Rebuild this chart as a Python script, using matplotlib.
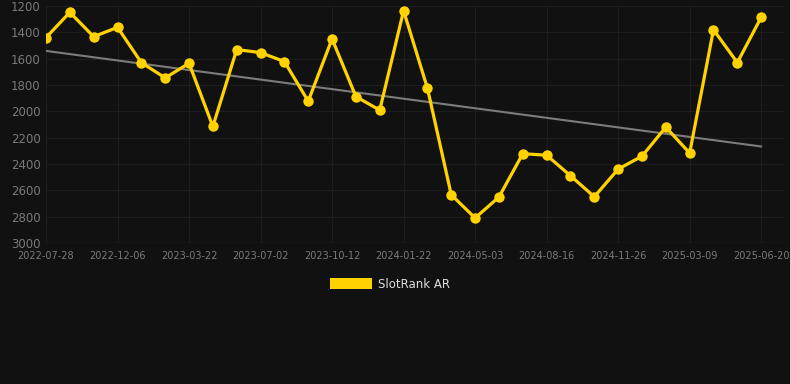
import matplotlib
matplotlib.use("Agg")
import matplotlib.pyplot as plt
from matplotlib.patches import Patch

# rank values (lower is better, axis inverted)
ranks = [1440, 1248, 1433, 1362, 1630, 1746, 1635, 2115, 1531, 1554,
         1622, 1923, 1450, 1888, 1991, 1236, 1824, 2634, 2810, 2651,
         2322, 2333, 2489, 2649, 2439, 2341, 2120, 2317, 1380, 1630,
         1286]

tick_labels = ["2022-07-28", "2022-12-06", "2023-03-22", "2023-07-02",
               "2023-10-12", "2024-01-22", "2024-05-03", "2024-08-16",
               "2024-11-26", "2025-03-09", "2025-06-20"]

# trend line end values
trend_start = 1541
trend_end = 2267

BG = "#111111"
YELLOW = "#ffd200"
GRID = "#1d1d1d"
TICK = "#7a7a7a"

fig = plt.figure(figsize=(7.9, 3.84), dpi=100, facecolor=BG)
ax = fig.add_axes([46 / 790, 1 - 243 / 384, (785 - 46) / 790, (243 - 6) / 384])
ax.set_facecolor(BG)

x = list(range(len(ranks)))
ax.plot([x[0], x[-1]], [trend_start, trend_end], color="#7c7c7c", lw=1.5, zorder=2)
ax.plot(x, ranks, color=YELLOW, lw=2.3, marker="o", markersize=7.5,
        markeredgewidth=0, zorder=3)

ax.set_xlim(0, len(ranks))
ax.set_ylim(3000, 1200)
ax.set_yticks(range(1200, 3001, 200))
ax.set_xticks(range(0, len(ranks), 3))
ax.set_xticklabels(tick_labels)

ax.grid(True, color=GRID, lw=0.8)
ax.axhline(3000, color="#2a2a2a", lw=1, zorder=1)
ax.set_axisbelow(True)
for s in ax.spines.values():
    s.set_visible(False)
ax.tick_params(axis="both", length=0, colors=TICK)
ax.tick_params(axis="y", labelsize=8.5, pad=4)
ax.tick_params(axis="x", labelsize=7, pad=6)

handle = Patch(facecolor=YELLOW, edgecolor="none")
leg = fig.legend([handle], ["SlotRank AR"], loc="center", bbox_to_anchor=(390 / 790, 1 - 284 / 384),
                 frameon=False, fontsize=8.5, handlelength=3.6, handleheight=1.0,
                 handletextpad=0.5, labelcolor="#dddddd")

fig.savefig("out.png", dpi=100, facecolor=BG)
